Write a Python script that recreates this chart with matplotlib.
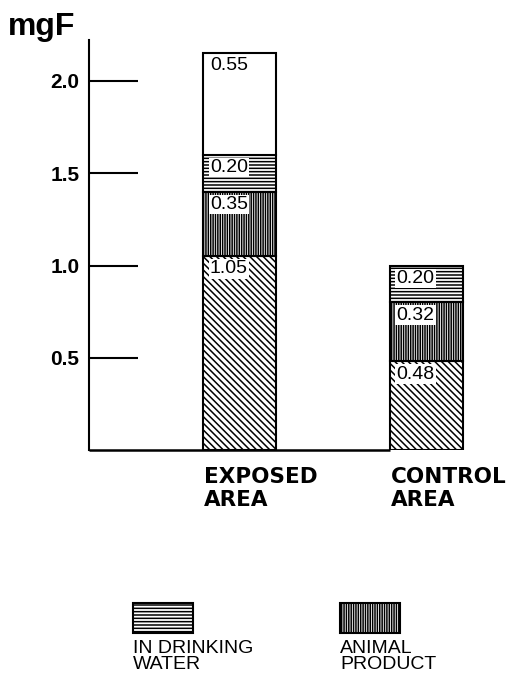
import matplotlib
matplotlib.use("Agg")
import matplotlib.pyplot as plt
from matplotlib.patches import Rectangle

# data
areas = ["EXPOSED\nAREA", "CONTROL\nAREA"]
base_part = [1.05, 0.48]          # diagonal hatch
animal_product = [0.35, 0.32]     # vertical hatch
drinking_water = [0.20, 0.20]     # horizontal hatch
other_part = [0.55, 0.0]          # plain white
y_ticks = [0.5, 1.0, 1.5, 2.0]
y_ticklabels = ["0.5", "1.0", "1.5", "2.0"]
legend_labels = ["IN DRINKING\nWATER", "ANIMAL\nPRODUCT"]

W, H = 511, 679
plt.rcParams["hatch.linewidth"] = 1.1
plt.rcParams["font.family"] = ["Liberation Sans", "DejaVu Sans"]

fig = plt.figure(figsize=(W / 100, H / 100), dpi=100)


def fx(px):
    return px / W


def fy(py):
    return 1 - py / H


# axes: left at x=89px, zero at y=450px, top at y=40px
ax = fig.add_axes([fx(89), fy(450), fx(511) - fx(89), fy(40) - fy(450)])
ax.set_ylim(0, 410 / 184.5)
spacing = 186.5
ax.set_xlim(-150.5 / spacing, (422 - 150.5) / spacing)
pos = [0, 1]
width = 73 / spacing

segments = [
    (base_part, "\\\\\\\\\\"),
    (animal_product, "|||||||"),
    (drinking_water, "-----"),
    (other_part, ""),
]
bottoms = [0.0, 0.0]
for vals, hatch in segments:
    for i, v in enumerate(vals):
        if v <= 0:
            continue
        ax.bar(pos[i], v, width, bottom=bottoms[i], facecolor="white",
               edgecolor="black", hatch=hatch, linewidth=1.5, zorder=2)
        ax.annotate(f"{v:.2f}", xy=(pos[i] - width / 2, bottoms[i] + v),
                    xytext=(5, -3), textcoords="offset points",
                    ha="left", va="top", fontsize=14,
                    bbox=dict(facecolor="white", edgecolor="none", pad=0.8),
                    zorder=3)
        bottoms[i] += v

for s in ["top", "right", "bottom"]:
    ax.spines[s].set_visible(False)
ax.spines["left"].set_linewidth(1.5)
ax.hlines(0, ax.get_xlim()[0], pos[1] - width / 2, color="black",
          linewidth=1.8, zorder=1, clip_on=False)

ax.set_yticks(y_ticks)
ax.set_yticklabels(y_ticklabels, fontsize=15, fontweight="bold")
ax.tick_params(axis="y", direction="in", length=35, width=1.5, pad=7)
ax.set_xticks([])

for i, lab in enumerate(areas):
    ax.annotate(lab, xy=(pos[i] - width / 2, 0), xytext=(1, -12),
                textcoords="offset points", ha="left", va="top",
                fontsize=15.5, fontweight="bold", family="DejaVu Sans",
                linespacing=1.2)

fig.text(fx(8), fy(42), "mgF", fontsize=23, fontweight="bold",
         ha="left", va="bottom")

# legend boxes
legend_boxes = [(133, "-----"), (340, "|||||||")]
for (x0, hatch), lab in zip(legend_boxes, legend_labels):
    fig.add_artist(Rectangle((fx(x0), fy(633)), fx(60), fy(603) - fy(633),
                             transform=fig.transFigure, facecolor="white",
                             edgecolor="black", hatch=hatch, linewidth=1.5))
    fig.text(fx(x0), fy(640), lab, fontsize=14, ha="left", va="top",
             linespacing=0.9)

fig.savefig("out.png", dpi=100)
